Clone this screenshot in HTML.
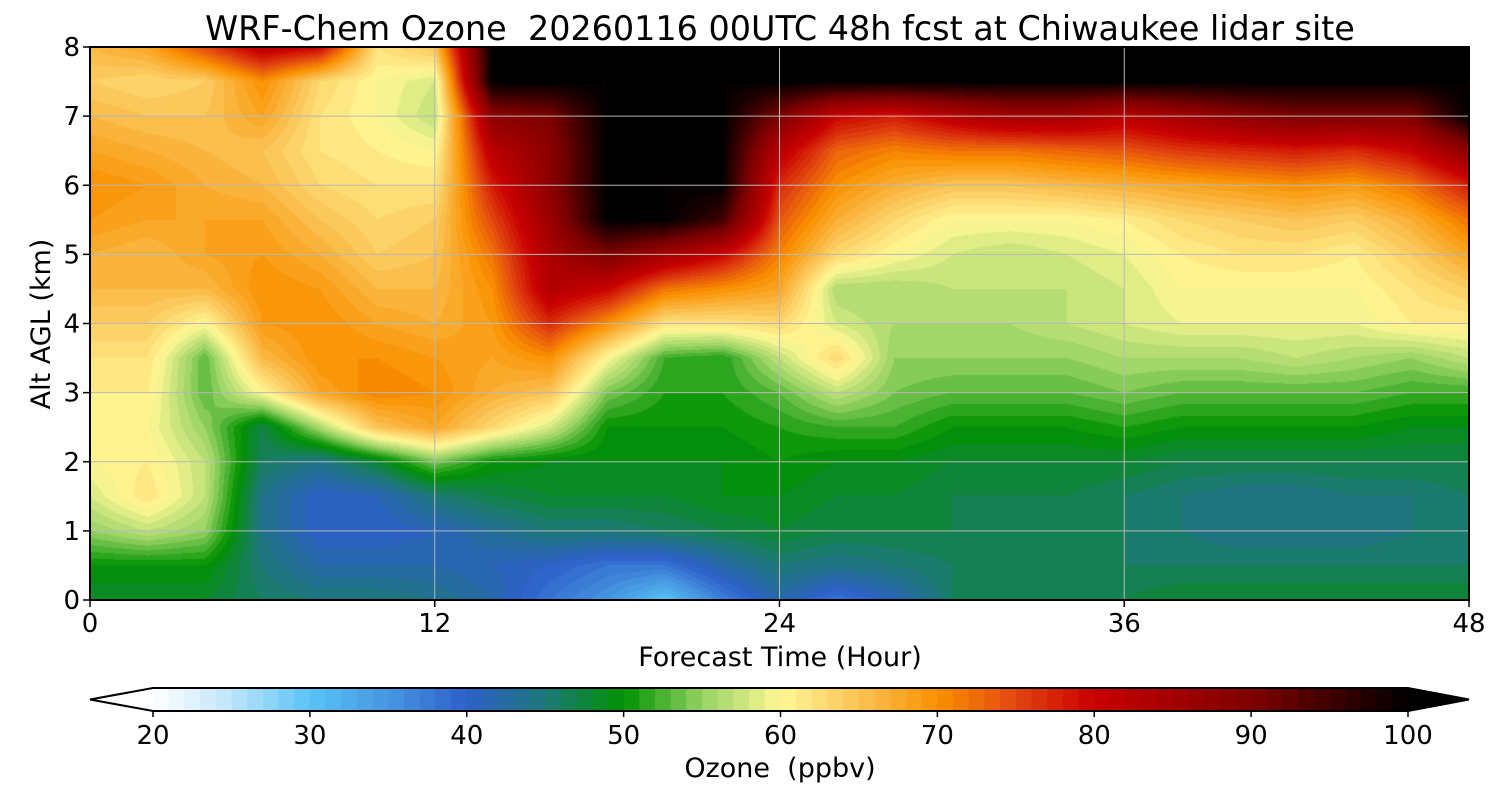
<!DOCTYPE html>
<html><head><meta charset="utf-8">
<style>
body{margin:0;background:#fff;font-family:"DejaVu Sans","Liberation Sans",sans-serif;}
#wrap{position:relative;width:1500px;height:800px;overflow:hidden;}
canvas{position:absolute;}
svg{position:absolute;left:0;top:0;font-family:"DejaVu Sans","Liberation Sans",sans-serif;}
text{white-space:pre;}
</style></head>
<body>
<div id="wrap">
<canvas id="heat" width="1379" height="553" style="left:90px;top:47px"></canvas>
<svg id="ov" width="1500" height="800"></svg>
</div>
<script>
// ---- data ----
const times = [0,2,4,6,8,10,12,14,16,18,20,22,24,26,28,30,32,34,36,38,40,42,44,46,48];
const altitudes = [0,0.5,1,1.5,2,2.5,3,3.5,4,4.5,5,5.5,6,6.5,7,7.5,8];
const ozone = [
[48,50,55,58,60,60,61,62,64,66,67,69,70,68,66,64,66],
[48,50,57,62,61,60,61,62,64,66,66,68,69,67,65,63,68],
[48,50,55,57,57,55,53,53,60,66,68,68,67,66,65,64,75],
[46,45,44,44,46,47,60,66,69,70,69,68,66,65,68,70,82],
[45,42,40,40,44,56,68,70,70,69,67,65,63,62,62,63,80],
[45,42,40,41,48,65,71,70,68,66,64,63,62,61,60,60,62],
[44,42,41,45,54,68,70,69,67,66,65,64,62,60,57,58,65],
[42,41,43,47,50,63,67,68,69,70,72,75,78,82,88,100,100],
[38,40,45,48,49,58,65,70,77,83,84,86,88,88,90,100,100],
[35,38,45,48,49,50,54,60,70,80,90,100,100,100,100,100,100],
[30,38,46,48,49,50,51,52,62,72,85,100,100,100,100,100,100],
[37,42,47,49,49,50,51,51,62,70,80,95,100,100,100,100,100],
[42,45,48,49,50,51,53,57,63,68,71,74,77,82,90,100,100],
[38,44,47,48,49,52,57,63,58,56,63,67,70,73,80,100,100],
[41,45,47,48,49,52,54,55,56,56,60,63,67,71,78,100,100],
[46,46,47,47,48,50,53,55,56,57,58,60,65,72,82,100,100],
[47,46,46,47,48,50,53,55,56,57,57,60,65,72,85,100,100],
[47,46,46,47,48,50,53,55,57,57,58,60,66,73,85,100,100],
[47,46,46,46,48,51,54,56,58,58,59,61,67,74,82,100,100],
[48,46,45,45,47,50,53,56,59,60,61,63,68,76,85,100,100],
[48,46,44,44,47,50,53,56,59,60,62,64,69,77,88,100,100],
[48,46,44,44,47,50,53,57,59,60,62,65,70,78,90,100,100],
[48,46,44,45,47,50,53,56,59,60,61,64,69,77,90,100,100],
[48,46,45,45,47,49,52,55,61,62,64,67,72,80,90,100,100],
[48,46,46,46,47,49,52,57,61,64,68,72,78,88,100,100,100]
];
const xTicks = [0,12,24,36,48];
const yTicks = [0,1,2,3,4,5,6,7,8];
const cbTicks = [20,30,40,50,60,70,80,90,100];

// ---- axes ----
const PX0=90,PX1=1469,PY0=600,PY1=47;
const xs = t => PX0 + (t-0)/(48-0)*(PX1-PX0);
const ys = z => PY0 - (z-0)/(8-0)*(PY0-PY1);
const CB0=153,CB1=1408;
const cbx = v => CB0 + (v-20)/(100-20)*(CB1-CB0);

const stops=[[20,[255,255,255]],[25,[190,228,250]],[30,[90,195,245]],[35,[70,150,225]],[40,[45,95,200]],[45,[30,120,120]],[50,[0,145,0]],[55,[150,210,100]],[60,[255,248,150]],[65,[250,195,85]],[70,[250,145,0]],[75,[225,70,15]],[80,[200,0,0]],[90,[125,0,0]],[100,[0,0,0]]];
function cmap(v){
  v=Math.max(20,Math.min(100,v));
  for(let i=0;i<stops.length-1;i++){
    const a=stops[i],b=stops[i+1];
    if(v<=b[0]){const f=(v-a[0])/(b[0]-a[0]);return a[1].map((c,k)=>Math.round(c+(b[1][k]-c)*f));}
  }
  return stops[stops.length-1][1];
}

// ---- heatmap ----
const cv=document.getElementById('heat'),ctx=cv.getContext('2d');
const W=cv.width,H=cv.height,img=ctx.createImageData(W,H);
const tStep=times[1]-times[0],zStep=altitudes[1]-altitudes[0];
for(let py=0;py<H;py++){
  const z=(PY0-(PY1+py+0.5))/(PY0-PY1)*8;
  let j=Math.min(altitudes.length-2,Math.max(0,Math.floor(z/zStep)));
  const fz=Math.min(1,Math.max(0,(z-altitudes[j])/zStep));
  for(let px=0;px<W;px++){
    const t=(px+0.5)/W*48;
    let i=Math.min(times.length-2,Math.max(0,Math.floor(t/tStep)));
    const ft=(t-times[i])/tStep;
    const v=(ozone[i][j]*(1-ft)+ozone[i+1][j]*ft)*(1-fz)+(ozone[i][j+1]*(1-ft)+ozone[i+1][j+1]*ft)*fz;
    const c=cmap(Math.floor(v)+0.5);
    const k=(py*W+px)*4;
    img.data[k]=c[0];img.data[k+1]=c[1];img.data[k+2]=c[2];img.data[k+3]=255;
  }
}
ctx.putImageData(img,0,0);

// ---- overlay ----
const svg=document.getElementById('ov');
const NS='http://www.w3.org/2000/svg';
function mk(tag,attrs,txt){const e=document.createElementNS(NS,tag);for(const k in attrs)e.setAttribute(k,attrs[k]);if(txt!==undefined)e.textContent=txt;svg.appendChild(e);return e;}

xTicks.forEach(t=>{
  const g=mk('line',{x1:xs(t),x2:xs(t),y1:PY1,y2:PY0,stroke:'#b8b8b8','stroke-width':1});
  
  
  const tk=mk('line',{x1:xs(t),x2:xs(t),y1:PY0,y2:PY0+7,stroke:'#000','stroke-width':1.5});
  
  
  const l=mk('text',{x:xs(t),y:632,'font-size':26,'text-anchor':'middle'},t);
  
  
});
yTicks.forEach(z=>{
  const g=mk('line',{x1:PX0,x2:PX1,y1:ys(z),y2:ys(z),stroke:'#b8b8b8','stroke-width':1});
  
  
  const tk=mk('line',{x1:PX0-7,x2:PX0,y1:ys(z),y2:ys(z),stroke:'#000','stroke-width':1.5});
  
  
  const l=mk('text',{x:80,y:ys(z)+9,'font-size':26,'text-anchor':'end'},z);
  
  
});
const fr=mk('rect',{x:PX0,y:PY1,width:PX1-PX0,height:PY0-PY1,fill:'none',stroke:'#000','stroke-width':2});


const ti=mk('text',{x:780,y:40,'font-size':33.4,'text-anchor':'middle'},'WRF-Chem Ozone  20260116 00UTC 48h fcst at Chiwaukee lidar site');


const xt=mk('text',{x:780,y:666,'font-size':27,'text-anchor':'middle'},'Forecast Time (Hour)');


const yt=mk('text',{x:0,y:0,'font-size':27,'text-anchor':'middle',transform:'translate(50,324) rotate(-90)'},'Alt AGL (km)');



// colorbar
const CBY0=688,CBY1=711;
for(let v=20;v<100;v++){
  const c=cmap(v+0.5);
  const r=mk('rect',{x:cbx(v),y:CBY0,width:cbx(v+1)-cbx(v)+0.6,height:CBY1-CBY0,fill:`rgb(${c})`});
  
  
}
const tl=mk('polygon',{points:`${CB0},${CBY0} 90,${(CBY0+CBY1)/2} ${CB0},${CBY1}`,fill:'#fff',stroke:'none'});


const tr=mk('polygon',{points:`${CB1},${CBY0} 1469,${(CBY0+CBY1)/2} ${CB1},${CBY1}`,fill:'#000'});


const co=mk('polygon',{points:`90,${(CBY0+CBY1)/2} ${CB0},${CBY0} ${CB1},${CBY0} 1469,${(CBY0+CBY1)/2} ${CB1},${CBY1} ${CB0},${CBY1}`,fill:'none',stroke:'#000','stroke-width':2});


cbTicks.forEach(v=>{
  const tk=mk('line',{x1:cbx(v),x2:cbx(v),y1:CBY1,y2:CBY1+6,stroke:'#000','stroke-width':1.5});
  
  
  const l=mk('text',{x:cbx(v),y:744,'font-size':26,'text-anchor':'middle'},v);
  
  
});
const ct=mk('text',{x:780,y:777,'font-size':27,'text-anchor':'middle'},'Ozone  (ppbv)');


</script>
</body></html>
